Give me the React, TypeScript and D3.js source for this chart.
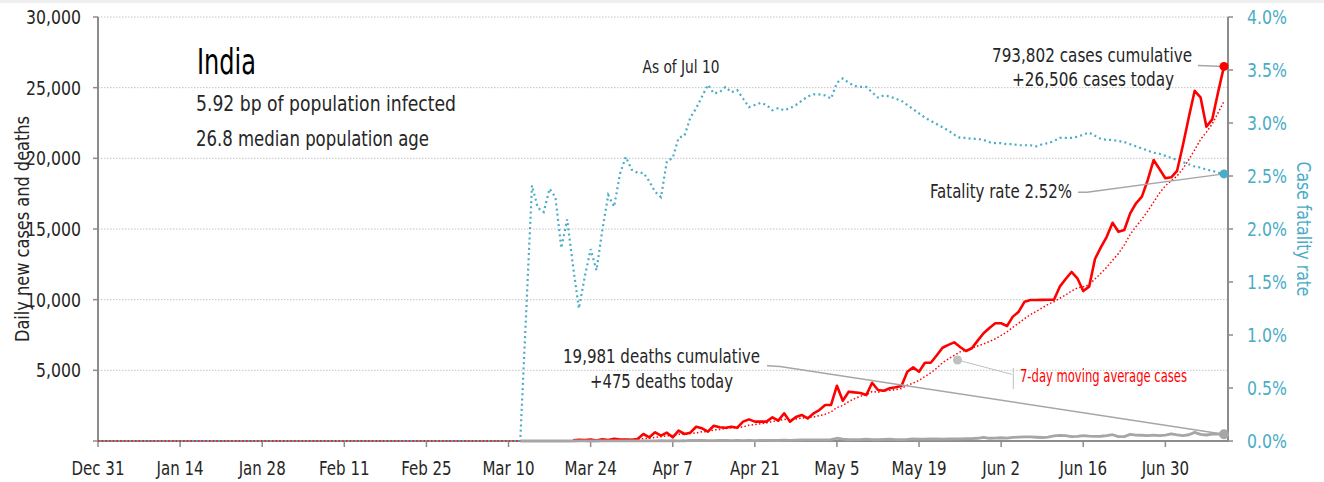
import React from "react";
import * as d3 from "d3";

// ---------- data ----------
const chartStart = "2019-12-31";
const chartEnd = "2020-07-10";

const xTickDates = [
  "2019-12-31", "2020-01-14", "2020-01-28", "2020-02-11", "2020-02-25", "2020-03-10", "2020-03-24",
  "2020-04-07", "2020-04-21", "2020-05-05", "2020-05-19", "2020-06-02", "2020-06-16", "2020-06-30",
];
const xTickLabels = [
  "Dec 31", "Jan 14", "Jan 28", "Feb 11", "Feb 25", "Mar 10", "Mar 24",
  "Apr 7", "Apr 21", "May 5", "May 19", "Jun 2", "Jun 16", "Jun 30",
];
const leftTicks = [5000, 10000, 15000, 20000, 25000, 30000];
const rightTicks = [0, 0.005, 0.01, 0.015, 0.02, 0.025, 0.03, 0.035, 0.04];

// daily new cases, starting Mar 1 2020
const casesStart = "2020-03-01";
const dailyCases = [
  // Mar
  0, 1, 1, 2, 22, 1, 3, 2, 5, 9,
  13, 6, 11, 10, 20, 11, 14, 23, 14, 38,
  50, 86, 66, 103, 37, 121, 70, 160, 100, 104, 92,
  // Apr
  146, 495, 260, 615, 380, 590, 260, 730, 495, 590,
  1010, 900, 660, 1080, 970, 940, 1010, 940, 1370, 1530,
  1370, 1370, 1370, 1680, 1440, 1960, 1370, 1700, 1840, 1600,
  // May
  1950, 2190, 2550, 2550, 3910, 2850, 3490, 3440, 3400, 3250,
  4120, 3610, 3560, 3730, 3800, 3890, 4900, 5210, 4900, 5540,
  5540, 6050, 6600, 6800, 6980, 6650, 6370, 6560, 7100, 7620, 8000,
  // Jun
  8330, 8330, 8140, 8800, 9150, 9860, 9975, 9980, 9985, 9990,
  9996, 10920, 11460, 11960, 11510, 10610, 10920, 12880, 13700, 14450,
  15440, 14810, 14930, 16110, 16820, 17290, 18470, 19880, 19250, 18590,
  // Jul
  18660, 19120, 20940, 22900, 24780, 24320, 22240, 22760, 24700, 26506,
];
const casesLineFrom = "2020-03-21";

// daily new deaths, starting Mar 12 2020
const deathsStart = "2020-03-12";
const dailyDeaths = [
  1, 0, 1, 0, 0, 1, 0, 1, 1, 0, 3, 2, 1, 1, 4, 4, 2, 6, 5, 9,
  3, 9, 12, 6, 17, 13, 33, 5, 16, 40, 34, 35, 31, 29, 39, 37, 23, 36, 26, 35,
  31, 47, 50, 36, 37, 56, 49, 60, 71, 73,
  77, 83, 72, 100, 195, 126, 89, 104, 95, 128, 97, 87, 122, 134, 100, 103,
  120, 157, 134, 134, 140, 148, 137, 142, 147, 154, 170, 175, 194, 265, 193,
  204, 230, 204, 260, 273, 294, 287, 266, 246, 279, 357, 396, 386, 311, 325,
  380, 345, 334, 336, 375, 445, 306, 312, 465, 418, 407, 384, 410, 380, 418,
  507, 434, 379, 442, 613, 467, 425, 482, 487, 475,
];

// case fatality rate (%), starting Mar 12 2020
const cfrStart = "2020-03-12";
const fatalityRatePct = [
  0, 1.2, 2.41, 2.2, 2.16, 2.38, 2.3, 1.82, 2.09, 1.65,
  1.25, 1.55, 1.81, 1.61, 1.99, 2.32, 2.21, 2.52, 2.68, 2.56,
  2.53, 2.53, 2.45, 2.35, 2.3, 2.64, 2.67, 2.86, 2.88, 3.05,
  3.14, 3.25, 3.36, 3.28, 3.29, 3.34, 3.29, 3.31, 3.23, 3.15,
  3.17, 3.19, 3.17, 3.12, 3.14, 3.12, 3.14, 3.17, 3.21, 3.25,
  3.27, 3.27, 3.26, 3.23, 3.38, 3.42, 3.38, 3.35, 3.34, 3.34,
  3.29, 3.24, 3.26, 3.25, 3.23, 3.21, 3.17, 3.13, 3.09, 3.05,
  3.02, 2.99, 2.96, 2.93, 2.89, 2.86, 2.86, 2.85, 2.85, 2.84, 2.82,
  2.81, 2.81, 2.8, 2.8, 2.79, 2.79, 2.79, 2.78, 2.8, 2.81,
  2.83, 2.86, 2.86, 2.86, 2.87, 2.89, 2.91, 2.88, 2.85, 2.84,
  2.84, 2.83, 2.82, 2.8, 2.78, 2.76, 2.74, 2.72, 2.71, 2.69,
  2.67, 2.65, 2.63, 2.61, 2.59, 2.58, 2.56, 2.55, 2.53, 2.52,
];

const titleText = "India";
const subtitleLines = ["5.92 bp of population infected", "26.8 median population age"];
const asOfText = "As of Jul 10";
const casesNote = ["793,802 cases cumulative", "+26,506 cases today"];
const deathsNote = ["19,981 deaths cumulative", "+475 deaths today"];
const cfrNote = "Fatality rate 2.52%";
const maNote = "7-day moving average cases";
const leftTitle = "Daily new cases and deaths";
const rightTitle = "Case fatality rate";

// ---------- styling ----------
const FONT = "'DejaVu Sans Condensed', 'DejaVu Sans', sans-serif";
const RED = "#ff0000";
const BLUE = "#4bacc6";
const GRAY = "#a6a6a6";
const AXIS = "#8c8c8c";
const TEXT = "#262626";

const W = 1324;
const H = 482;
const M = { left: 98, right: 1228, top: 17, bottom: 441 };

const parse = d3.utcParse("%Y-%m-%d");

type TP = {
  x: number;
  y: number;
  size: number;
  fill?: string;
  anchor?: "start" | "middle" | "end";
  len?: number;
  sx?: number;
  dy?: string;
  children: React.ReactNode;
};

// text helper: either fixed rendered length (len) or horizontal condensing (sx)
function T({ x, y, size, fill = TEXT, anchor = "start", len, sx = 1, dy, children }: TP) {
  if (len) {
    return (
      <text x={x} y={y} dy={dy} fontSize={size} fill={fill} textAnchor={anchor} textLength={len} lengthAdjust="spacingAndGlyphs">
        {children}
      </text>
    );
  }
  return (
    <text transform={`translate(${x},${y}) scale(${sx},1)`} dy={dy} fontSize={size} fill={fill} textAnchor={anchor}>
      {children}
    </text>
  );
}

export default function App() {
  const t0 = parse(chartStart)!;
  const t1 = parse(chartEnd)!;
  const x = d3.scaleUtc().domain([t0, t1]).range([M.left, 1224]);
  const yL = d3.scaleLinear().domain([0, 30000]).range([M.bottom, M.top]);
  const yR = d3.scaleLinear().domain([0, 0.04]).range([M.bottom, M.top]);

  const cs = parse(casesStart)!;
  const cases = dailyCases.map((v, i) => ({ date: d3.utcDay.offset(cs, i), v }));
  const fromDate = parse(casesLineFrom)!;
  const casesDrawn = cases.filter((d) => d.date >= fromDate);

  // 7-day trailing moving average over every day on the chart
  const allDays = d3.utcDay.range(t0, d3.utcDay.offset(t1, 1));
  const caseByTime = new Map(cases.map((d) => [+d.date, d.v]));
  const ma = allDays.map((day) => {
    const win = d3.range(7).map((k) => caseByTime.get(+d3.utcDay.offset(day, -k)) ?? 0);
    return { date: day, v: d3.mean(win)! };
  });

  const ds = parse(deathsStart)!;
  const deaths = dailyDeaths.map((v, i) => ({ date: d3.utcDay.offset(ds, i), v }));

  const fs = parse(cfrStart)!;
  const cfr = [{ date: t0, v: 0 }].concat(
    fatalityRatePct.map((v, i) => ({ date: d3.utcDay.offset(fs, i), v: v / 100 }))
  );

  const lineL = d3
    .line<{ date: Date; v: number }>()
    .x((d) => x(d.date))
    .y((d) => yL(d.v));
  const lineR = d3
    .line<{ date: Date; v: number }>()
    .x((d) => x(d.date))
    .y((d) => yR(d.v));

  const lastCase = cases[cases.length - 1];
  const lastDeath = deaths[deaths.length - 1];
  const lastCfr = cfr[cfr.length - 1];

  const pLastCase = [x(lastCase.date), yL(lastCase.v)];
  const pLastCfr = [x(lastCfr.date), yR(lastCfr.v)];
  const pLastDeath = [x(lastDeath.date), yL(lastDeath.v)];

  const pct = d3.format(".1%");
  const num = d3.format(",");
  const midY = (M.top + M.bottom) / 2;

  return (
    <div style={{ position: "absolute", left: 0, top: 0, width: W, height: H, background: "#fff" }}>
      <svg width={W} height={H} style={{ display: "block", fontFamily: FONT }}>
        <rect x={0} y={0} width={W} height={3} fill="#efefef" />

        {/* gridlines */}
        {leftTicks.map((t) => (
          <line key={"g" + t} x1={M.left} x2={M.right} y1={yL(t)} y2={yL(t)} stroke="#c4c4c4" strokeWidth={1} strokeDasharray="1.5 1.5" />
        ))}

        {/* left axis */}
        <line x1={M.left} x2={M.left} y1={M.top} y2={M.bottom + 1} stroke={AXIS} strokeWidth={2} />
        {[0, ...leftTicks].map((t) => (
          <line key={"lt" + t} x1={M.left - 5} x2={M.left} y1={yL(t)} y2={yL(t)} stroke={AXIS} strokeWidth={1.5} />
        ))}
        {leftTicks.map((t) => (
          <T key={"ll" + t} x={81} y={yL(t)} dy="0.36em" anchor="end" size={19} sx={0.92}>
            {num(t)}
          </T>
        ))}

        {/* right axis */}
        <line x1={M.right} x2={M.right} y1={M.top} y2={M.bottom + 1} stroke={AXIS} strokeWidth={2} />
        {rightTicks.map((t) => (
          <line key={"rt" + t} x1={M.right} x2={M.right + 5} y1={yR(t)} y2={yR(t)} stroke={AXIS} strokeWidth={1.5} />
        ))}
        {rightTicks.map((t) => (
          <T key={"rl" + t} x={1247} y={yR(t)} dy="0.36em" size={19} sx={0.92} fill={BLUE}>
            {pct(t)}
          </T>
        ))}

        {/* bottom axis */}
        <line x1={M.left} x2={M.right} y1={M.bottom} y2={M.bottom} stroke={AXIS} strokeWidth={2} />
        {xTickDates.map((d, i) => {
          const xx = x(parse(d)!);
          return (
            <g key={"xt" + d}>
              <line x1={xx} x2={xx} y1={M.bottom} y2={M.bottom + 6} stroke={AXIS} strokeWidth={1.5} />
              <T x={xx} y={475} anchor="middle" size={19} sx={0.88}>
                {xTickLabels[i]}
              </T>
            </g>
          );
        })}

        {/* axis titles */}
        <g transform={`translate(29,${midY}) rotate(-90)`}>
          <T x={0} y={0} anchor="middle" size={19} len={226}>{leftTitle}</T>
        </g>
        <g transform={`translate(1297,${midY}) rotate(90)`}>
          <T x={0} y={0} anchor="middle" size={20} len={135} fill={BLUE}>{rightTitle}</T>
        </g>

        {/* series */}
        <path d={lineR(cfr)!} fill="none" stroke={BLUE} strokeWidth={2.2} strokeDasharray="2 3.2" />
        <path d={lineL(ma)!} fill="none" stroke={RED} strokeWidth={1.5} strokeDasharray="1.5 2.2" />
        <path d={lineL(casesDrawn)!} fill="none" stroke={RED} strokeWidth={2.6} strokeLinejoin="round" />
        <path d={lineL(deaths)!} fill="none" stroke={GRAY} strokeWidth={2.8} strokeLinejoin="round" />

        {/* title block */}
        <T x={197} y={74} size={36} len={59} fill="#000">{titleText}</T>
        <T x={196} y={111} size={20.5} len={260}>{subtitleLines[0]}</T>
        <T x={196} y={146} size={20.5} len={233}>{subtitleLines[1]}</T>
        <T x={681} y={73} anchor="middle" size={18} len={77}>{asOfText}</T>

        {/* cases annotation */}
        <line x1={1198} y1={pLastCase[1] - 1} x2={pLastCase[0]} y2={pLastCase[1]} stroke={GRAY} strokeWidth={1.5} />
        <T x={1092} y={62} anchor="middle" size={20} len={200}>{casesNote[0]}</T>
        <T x={1093} y={86} anchor="middle" size={20} len={162}>{casesNote[1]}</T>
        <circle cx={pLastCase[0]} cy={pLastCase[1]} r={4.5} fill={RED} />

        {/* CFR annotation */}
        <polyline points={`1078,192.3 1087,192.3 ${pLastCfr[0]},${pLastCfr[1]}`} fill="none" stroke={GRAY} strokeWidth={1.5} />
        <T x={1072} y={198} anchor="end" size={20} len={142}>{cfrNote}</T>
        <circle cx={pLastCfr[0]} cy={pLastCfr[1]} r={4.5} fill={BLUE} />

        {/* deaths annotation */}
        <polyline points={`767,365.7 780,366.5 ${pLastDeath[0]},${pLastDeath[1]}`} fill="none" stroke={GRAY} strokeWidth={1.5} />
        <T x={661.5} y={362.5} anchor="middle" size={20} len={197}>{deathsNote[0]}</T>
        <T x={661.5} y={388} anchor="middle" size={20} len={143}>{deathsNote[1]}</T>
        <circle cx={pLastDeath[0]} cy={pLastDeath[1]} r={5} fill={GRAY} />

        {/* moving average annotation */}
        <line x1={957.5} y1={360} x2={1011.7} y2={374.3} stroke="#bfbfbf" strokeWidth={1} />
        <line x1={1013.3} x2={1013.3} y1={368} y2={389} stroke="#bfbfbf" strokeWidth={1} />
        <circle cx={957.5} cy={360} r={4.5} fill="#bfbfbf" />
        <T x={1020} y={382} size={17} len={167} fill={RED}>{maNote}</T>
      </svg>
    </div>
  );
}
